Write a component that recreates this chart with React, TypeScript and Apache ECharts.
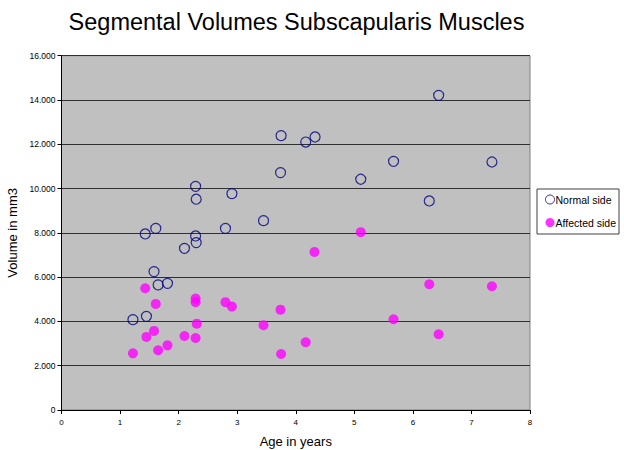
import React, { useEffect, useRef } from "react";
import * as echarts from "echarts";

const normalAge = [1.22, 1.45, 1.43, 1.61, 1.58, 1.65, 1.81, 2.1, 2.29, 2.3, 2.29, 2.3, 2.8, 2.91, 3.45, 3.75, 3.74, 4.17, 4.33, 5.11, 5.67, 6.28, 6.44, 7.35];
const normalVol = [4080, 4230, 7950, 8200, 6250, 5650, 5720, 7300, 10100, 9520, 7860, 7560, 8200, 9770, 8550, 12390, 10720, 12100, 12330, 10420, 11230, 9440, 14210, 11200];
const affectedAge = [1.22, 1.45, 1.43, 1.61, 1.58, 1.65, 1.81, 2.1, 2.29, 2.29, 2.31, 2.29, 2.8, 2.91, 3.45, 3.74, 3.75, 4.17, 4.32, 5.11, 5.67, 6.28, 6.44, 7.35];
const affectedVol = [2560, 3300, 5500, 4790, 3570, 2700, 2920, 3340, 5030, 4870, 3900, 3250, 4870, 4670, 3830, 4530, 2530, 3060, 7140, 8030, 4100, 5680, 3420, 5590];

const FONT = "Liberation Sans, Arial, sans-serif";

export default function App() {
  const ref = useRef<HTMLDivElement>(null);
  useEffect(() => {
    const chart = echarts.init(ref.current!, null, { renderer: "svg" });
    chart.setOption({
      animation: false,
      backgroundColor: "#ffffff",
      title: {
        text: "Segmental Volumes Subscapularis Muscles",
        left: 291.5,
        textAlign: "center",
        top: 5,
        textStyle: { fontFamily: FONT, fontSize: 23.5, fontWeight: "normal", color: "#000" },
      },
      legend: {
        orient: "vertical",
        left: 537,
        top: 189,
        borderColor: "#404040",
        borderWidth: 1,
        padding: [5, 3, 6, 8],
        itemGap: 12,
        itemWidth: 9,
        itemHeight: 10,
        textStyle: { fontFamily: FONT, fontSize: 10.5, color: "#000", padding: [0, 0, 0, -4] },
        data: [
          { name: "Normal side", icon: "circle", itemStyle: { color: "transparent", borderColor: "#000080", borderWidth: 1 } },
          { name: "Affected side", icon: "circle", itemStyle: { color: "#ff00ff" } },
        ],
      },
      grid: {
        left: 61.5,
        right: 94,
        top: 55.7,
        bottom: 40,
        containLabel: false,
        outerBoundsMode: "none",
        show: true,
        backgroundColor: "#c0c0c0",
        borderColor: "#808080",
        borderWidth: 1,
      },
      xAxis: {
        type: "value",
        min: 0,
        max: 8,
        interval: 1,
        name: "Age in years",
        nameLocation: "middle",
        nameGap: 25,
        nameTextStyle: { fontFamily: FONT, fontSize: 13, color: "#000" },
        axisLine: { onZero: false, lineStyle: { color: "#000", width: 1 } },
        axisTick: { show: true, length: 4, lineStyle: { color: "#000" } },
        axisLabel: { fontFamily: FONT, fontSize: 8, color: "#000", margin: 8 },
        splitLine: { show: false },
      },
      yAxis: {
        type: "value",
        min: 0,
        max: 16000,
        interval: 2000,
        name: "Volume in mm3",
        nameLocation: "middle",
        nameGap: 39,
        nameRotate: 90,
        nameTextStyle: { fontFamily: FONT, fontSize: 13, color: "#000" },
        axisLine: { show: true, lineStyle: { color: "#000", width: 1 } },
        axisTick: { show: true, length: 4, lineStyle: { color: "#000" } },
        axisLabel: {
          fontFamily: FONT,
          fontSize: 8.5,
          color: "#000",
          margin: 6,
          formatter: (v: number) => (v === 0 ? "0" : (v / 1000).toFixed(3)),
        },
        splitLine: { show: true, lineStyle: { color: "#303030", width: 1 } },
      },
      series: [
        {
          name: "Normal side",
          type: "scatter",
          symbol: "circle",
          symbolSize: 10,
          itemStyle: { color: "transparent", borderColor: "#000080", borderWidth: 1.2 },
          data: normalAge.map((a, i) => [a, normalVol[i]]),
        },
        {
          name: "Affected side",
          type: "scatter",
          symbol: "circle",
          symbolSize: 10,
          itemStyle: { color: "#ff00ff" },
          data: affectedAge.map((a, i) => [a, affectedVol[i]]),
        },
      ],
    });
    return () => chart.dispose();
  }, []);
  return <div ref={ref} style={{ width: 624, height: 450, position: "absolute", left: 0, top: 0 }} />;
}
